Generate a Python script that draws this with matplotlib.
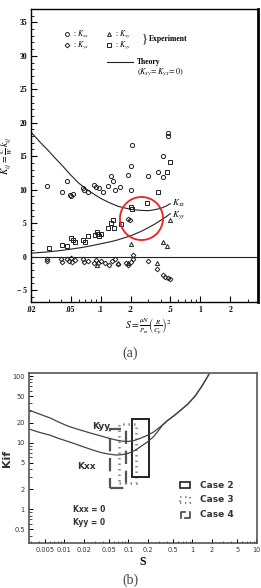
import numpy as np
import matplotlib
matplotlib.use("Agg")
import matplotlib.pyplot as plt
from matplotlib.patches import Rectangle
from matplotlib.ticker import FixedLocator, NullFormatter, LogLocator, MultipleLocator

# ---------- (a) datos experimentales y teoria ----------
s_kxx = [0.029, 0.041, 0.046, 0.049, 0.051, 0.053, 0.066, 0.068, 0.074, 0.085, 0.090, 0.097,
         0.106, 0.118, 0.126, 0.134, 0.141, 0.158, 0.19, 0.20, 0.20, 0.206, 0.30, 0.375,
         0.42, 0.42, 0.47, 0.48]
k_kxx = [10.6, 9.7, 11.3, 9.2, 9.0, 9.4, 10.3, 10.0, 9.7, 10.7, 10.4, 10.2,
         9.6, 10.5, 12.1, 11.3, 9.9, 10.4, 12.2, 13.5, 10.0, 16.7, 12.0, 12.6,
         15.1, 11.9, 18.4, 18.0]

s_kyy = [0.030, 0.041, 0.046, 0.051, 0.053, 0.055, 0.067, 0.069, 0.075, 0.087, 0.091, 0.094,
         0.097, 0.100, 0.118, 0.126, 0.134, 0.135, 0.16, 0.20, 0.205, 0.29, 0.375, 0.46, 0.50]
k_kyy = [1.2, 1.7, 1.5, 2.8, 2.5, 2.2, 2.4, 2.1, 3.0, 3.2, 3.6, 3.4,
         3.0, 3.3, 4.2, 5.0, 5.4, 4.2, 4.8, 7.4, 7.1, 8.0, 9.6, 12.6, 14.1]

s_kyx = [0.029, 0.029, 0.040, 0.041, 0.046, 0.048, 0.050, 0.052, 0.055, 0.066, 0.068, 0.074,
         0.085, 0.090, 0.095, 0.10, 0.11, 0.12, 0.13, 0.14, 0.15, 0.18, 0.19, 0.20, 0.21,
         0.21, 0.30, 0.37, 0.42, 0.44, 0.47, 0.50, 0.19, 0.195]
k_kyx = [-0.3, -0.6, -0.4, -0.8, -0.3, -0.6, -0.2, -0.8, -0.5, -0.3, -0.8, -0.6,
         -0.9, -0.5, -1.0, -0.6, -0.9, -1.2, -0.7, -0.3, -1.1, -0.9, -1.3, -0.8, -0.4,
         0.3, -0.7, -1.9, -2.8, -3.0, -3.2, -3.4, 5.6, 5.4]

s_kxy = [0.093, 0.15, 0.19, 0.20, 0.37, 0.42, 0.46, 0.50]
k_kxy = [-1.2, -0.9, -1.0, 1.9, -0.9, 2.1, 1.6, 5.5]

s_teo = [0.02, 0.025, 0.03, 0.035, 0.04, 0.05, 0.06, 0.07, 0.08, 0.1, 0.12, 0.15,
         0.2, 0.25, 0.3, 0.35, 0.4, 0.45, 0.5]
kxx_teo = [18.6, 17.0, 15.8, 14.7, 13.8, 12.2, 11.0, 10.2, 9.6, 8.7, 8.1, 7.5,
           7.05, 6.9, 6.85, 7.0, 7.2, 7.5, 7.9]
s_teo2 = [0.02, 0.03, 0.04, 0.05, 0.065, 0.08, 0.1, 0.125, 0.15, 0.2, 0.25, 0.3,
          0.35, 0.4, 0.45, 0.5]
kyy_teo = [0.5, 0.7, 0.9, 1.1, 1.35, 1.6, 1.9, 2.2, 2.5, 3.1, 3.7, 4.3,
           4.85, 5.4, 5.9, 6.4]

xt_a = [0.02, 0.05, 0.1, 0.2, 0.5, 1, 2]
xt_a_lab = ['.02', '.05', '.1', '.2', '.5', '1', '2']
yt_a = [-5, 0, 5, 10, 15, 20, 25, 30, 35]
yt_a_lab = ['\u2212 5', '0', '5', '10', '15', '20', '25', '30', '35']

# ---------- (b) curvas y casos ----------
s_b_yy = [0.0028, 0.004, 0.006, 0.008, 0.011, 0.015, 0.02, 0.027, 0.037, 0.05, 0.065,
          0.08, 0.1, 0.125, 0.15, 0.2, 0.25, 0.32, 0.41, 0.52, 0.65, 0.85, 1.1, 1.4, 1.8]
k_b_yy = [30.8, 27.0, 23.4, 20.5, 17.9, 16.2, 14.9, 13.7, 12.6, 11.6, 10.9,
          10.5, 10.4, 10.8, 11.5, 12.9, 14.5, 17.5, 21.5, 25.5, 30.5, 38, 50, 70, 105]
s_b_xx = [0.0028, 0.004, 0.006, 0.008, 0.011, 0.015, 0.02, 0.027, 0.037, 0.05, 0.065,
          0.08, 0.1, 0.125, 0.15, 0.2, 0.25, 0.3, 0.34, 0.41, 0.52, 0.65, 0.85, 1.1, 1.4, 1.8]
k_b_xx = [16.0, 14.3, 12.9, 11.6, 10.5, 9.5, 8.6, 7.8, 7.1, 6.7, 6.5,
          6.6, 6.9, 7.6, 8.5, 10.3, 12.4, 15.5, 18.2, 21.5, 25.5, 30.5, 38, 50, 70, 105]

# cajas: (s_min, s_max, k_min, k_max)
caso2 = (0.1155, 0.213, 3.06, 22.6)
caso3 = (0.0705, 0.133, 2.43, 18.8)
caso4 = (0.051, 0.093, 2.07, 16.0)

xt_b = [0.005, 0.01, 0.02, 0.05, 0.1, 0.2, 0.5, 1, 2, 5, 10]
xt_b_lab = ['0.005', '0.01', '0.02', '0.05', '0.1', '0.2', '0.5', '1', '2', '5', '10']
yt_b = [0.5, 1, 2, 5, 10, 20, 50, 100]
yt_b_lab = ['0.5', '1', '2', '5', '10', '20', '50', '100']

plt.rcParams['font.family'] = ['Liberation Serif', 'DejaVu Serif']
plt.rcParams['mathtext.fontset'] = 'stix'

fig = plt.figure(figsize=(2.61, 5.88), dpi=100)

# ================= (a) =================
ax = fig.add_axes([31/261, 1-302/588, 227/261, 293/588])
ax.set_xscale('log')
ax.set_xlim(0.02, 3.8)
ax.set_ylim(-6.8, 37)

ax.axhline(0, color='#222', lw=0.8)
ax.plot(s_teo, kxx_teo, color='#222', lw=0.8)
ax.plot(s_teo2, kyy_teo, color='#222', lw=0.8)

mk = dict(ls='none', mfc='none', mec='#222', mew=0.7)
ax.plot(s_kxx, k_kxx, marker='o', ms=3, **mk)
ax.plot(s_kyy, k_kyy, marker='s', ms=2.8, **mk)
ax.plot(s_kyx, k_kyx, marker='D', ms=2.4, **mk)
ax.plot(s_kxy, k_kxy, marker='^', ms=3, **mk)

# circulo rojo
ax.plot([0.255], [5.8], marker='o', ms=31, mfc='none', mec='#e42525', mew=1.3)

ax.text(0.52, 7.9, r'$K_{xx}$', fontsize=6.5, va='center')
ax.text(0.52, 6.2, r'$K_{yy}$', fontsize=6.5, va='center')

# leyenda
t = ax.transAxes
r1, r2 = 0.915, 0.877
ax.plot([0.16], [r1], marker='o', ms=2.8, transform=t, clip_on=False, **mk)
ax.plot([0.16], [r2], marker='D', ms=2.4, transform=t, clip_on=False, **mk)
ax.plot([0.345], [r1], marker='^', ms=2.8, transform=t, clip_on=False, **mk)
ax.plot([0.345], [r2], marker='s', ms=2.6, transform=t, clip_on=False, **mk)
ax.text(0.185, r1, r': $K_{xx}$', transform=t, fontsize=5.5, va='center')
ax.text(0.185, r2, r': $K_{yx}$', transform=t, fontsize=5.5, va='center')
ax.text(0.37, r1, r': $K_{xy}$', transform=t, fontsize=5.5, va='center')
ax.text(0.37, r2, r': $K_{yy}$', transform=t, fontsize=5.5, va='center')
ax.text(0.49, 0.896, '}', transform=t, fontsize=9, va='center')
ax.text(0.52, 0.896, 'Experiment', transform=t, fontsize=5.5, va='center', fontweight='bold')
ax.plot([0.335, 0.449], [0.819, 0.819], color='#222', lw=0.8, transform=t)
ax.text(0.467, 0.819, 'Theory', transform=t, fontsize=5.5, va='center', fontweight='bold')
ax.text(0.467, 0.786, r'$(K_{xy}\!=K_{yx}\!=\,0)$', transform=t, fontsize=5.8, va='center')

ax.xaxis.set_major_locator(FixedLocator(xt_a))
ax.set_xticklabels(xt_a_lab)
ax.xaxis.set_minor_locator(LogLocator(base=10, subs=np.arange(2, 10)))
ax.xaxis.set_minor_formatter(NullFormatter())
ax.set_yticks(yt_a)
ax.set_yticklabels(yt_a_lab)
ax.yaxis.set_minor_locator(MultipleLocator(1))
ax.tick_params(which='major', direction='in', length=4, width=0.8, labelsize=5.5, pad=3)
ax.tick_params(which='minor', direction='in', length=2.5, width=0.6)
ax.tick_params(axis='y', which='minor', length=2)
for lab in ax.get_xticklabels() + ax.get_yticklabels():
    lab.set_fontweight('bold')
for sp in ['left', 'bottom', 'top']:
    ax.spines[sp].set_linewidth(1.0)
ax.spines['right'].set_linewidth(2.0)

ax.set_ylabel(r'$K_{ij}=\frac{C}{W}\,k_{ij}$', fontsize=7, labelpad=1)
fig.text(148/261, 1-327/588, r'$S=\frac{\mu N}{P_m}\left(\frac{R}{C_p}\right)^2$',
         fontsize=7, ha='center', va='center')
fig.text(130/261, 1-353/588, '(a)', fontsize=10, ha='center', va='center', color='#444')

# ================= (b) =================
bx = fig.add_axes([29/261, 1-543/588, 228/261, 170/588])
bx.set_xscale('log')
bx.set_yscale('log')
bx.set_xlim(0.0028, 10.2)
bx.set_ylim(0.31, 111)

bx.plot(s_b_yy, k_b_yy, color='#444', lw=0.9)
bx.plot(s_b_xx, k_b_xx, color='#444', lw=0.9)

def caja(c, **kw):
    x0, x1, y0, y1 = c
    bx.add_patch(Rectangle((x0, y0), x1 - x0, y1 - y0, fill=False, **kw))

caja(caso4, ec='#555', lw=1.6, ls=(0, (6, 3)))
caja(caso3, ec='#888', lw=1.8, ls=(0, (0.6, 1.6)))
caja(caso2, ec='#222', lw=1.4)

sans = ['DejaVu Sans']
bx.text(0.037, 17.2, 'Kyy', fontsize=6.5, fontweight='bold', family=sans, ha='center', va='center', color='#333')
bx.text(0.022, 4.3, 'Kxx', fontsize=6.5, fontweight='bold', family=sans, ha='center', va='center', color='#333')
bx.text(0.0135, 1.0, 'Kxx = 0', fontsize=5.5, fontweight='bold', family=sans, ha='left', va='center', color='#333')
bx.text(0.0135, 0.64, 'Kyy = 0', fontsize=5.5, fontweight='bold', family=sans, ha='left', va='center', color='#333')

tb = bx.transAxes
bx.add_patch(Rectangle((0.662, 0.324), 0.044, 0.035, fill=False, ec='#222', lw=1.2, transform=tb))
bx.add_patch(Rectangle((0.662, 0.236), 0.044, 0.035, fill=False, ec='#888', lw=1.6,
                       ls=(0, (0.6, 1.6)), transform=tb))
bx.plot([0.665, 0.665, 0.685], [0.148, 0.185, 0.185], color='#444', lw=1.2, transform=tb)
bx.plot([0.685, 0.705, 0.705], [0.148, 0.148, 0.185], color='#444', lw=1.2, transform=tb)
for yy, name in [(0.341, 'Case 2'), (0.253, 'Case 3'), (0.165, 'Case 4')]:
    bx.text(0.75, yy, name, transform=tb, fontsize=6.5, fontweight='bold', family=sans,
            va='center', color='#333')

bx.xaxis.set_major_locator(FixedLocator(xt_b))
bx.set_xticklabels(xt_b_lab)
bx.xaxis.set_minor_locator(LogLocator(base=10, subs=np.arange(2, 10)))
bx.xaxis.set_minor_formatter(NullFormatter())
bx.yaxis.set_major_locator(FixedLocator(yt_b))
bx.set_yticklabels(yt_b_lab)
bx.yaxis.set_minor_locator(LogLocator(base=10, subs=np.arange(2, 10)))
bx.yaxis.set_minor_formatter(NullFormatter())
bx.tick_params(which='major', direction='in', length=3, width=0.7, labelsize=4.8, pad=3)
bx.tick_params(which='minor', direction='in', length=1.8, width=0.5)
for lab in bx.get_xticklabels() + bx.get_yticklabels():
    lab.set_family(sans)
    lab.set_color('#333')
for sp in bx.spines.values():
    sp.set_linewidth(1.2)
    sp.set_color('#555')

bx.set_ylabel('Kif', fontsize=8, fontweight='bold', family=sans, color='#333', labelpad=0)
bx.set_xlabel('S', fontsize=8.5, fontweight='bold', labelpad=2)
fig.text(130/261, 1-580/588, '(b)', fontsize=10, ha='center', va='center', color='#444')

fig.savefig('out.png', dpi=100)
